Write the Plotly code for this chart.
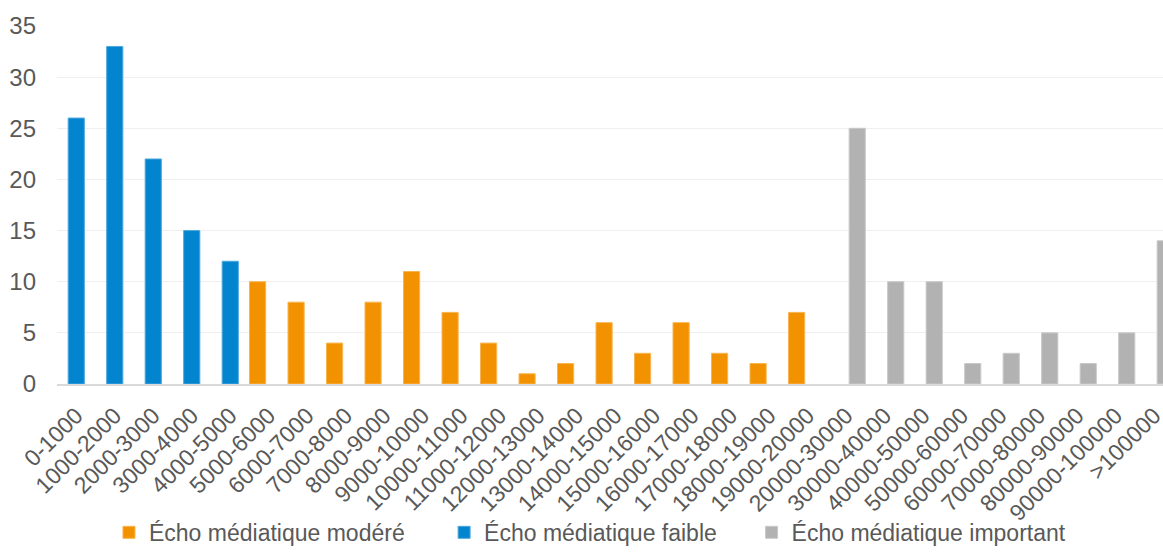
import plotly.graph_objects as go

categories = ["0-1000", "1000-2000", "2000-3000", "3000-4000", "4000-5000",
              "5000-6000", "6000-7000", "7000-8000", "8000-9000", "9000-10000",
              "10000-11000", "11000-12000", "12000-13000", "13000-14000", "14000-15000",
              "15000-16000", "16000-17000", "17000-18000", "18000-19000", "19000-20000",
              "20000-30000", "30000-40000", "40000-50000", "50000-60000", "60000-70000",
              "70000-80000", "80000-90000", "90000-100000", ">100000"]

faible_cats = categories[0:5]
faible_vals = [26, 33, 22, 15, 12]

modere_cats = categories[5:20]
modere_vals = [10, 8, 4, 8, 11, 7, 4, 1, 2, 6, 3, 6, 3, 2, 7]

important_cats = categories[20:29]
important_vals = [25, 10, 10, 2, 3, 5, 2, 5, 14]

names = ["Écho médiatique modéré", "Écho médiatique faible", "Écho médiatique important"]
colors = ["#F39200", "#0284CE", "#B2B2B2"]
edge = ["#F8B54F", "#4FA9DE", "#C9C9C9"]

TXT = "#595959"
FONT = "Liberation Sans, Arial, sans-serif"
BAR_W = 0.42

fig = go.Figure()
fig.add_trace(go.Bar(x=modere_cats, y=modere_vals, name=names[0], legend="legend",
                     marker=dict(color=colors[0], line=dict(color=edge[0], width=1)),
                     width=BAR_W, offset=-0.50))
fig.add_trace(go.Bar(x=faible_cats, y=faible_vals, name=names[1], legend="legend2",
                     marker=dict(color=colors[1], line=dict(color=edge[1], width=1)),
                     width=BAR_W, offset=-0.21))
fig.add_trace(go.Bar(x=important_cats, y=important_vals, name=names[2], legend="legend3",
                     marker=dict(color=colors[2], line=dict(color=edge[2], width=1)),
                     width=BAR_W, offset=0.075))

def leg(x):
    return dict(orientation="h", x=x, xanchor="left", y=-0.4745, yanchor="bottom",
                font=dict(family=FONT, size=23, color=TXT),
                bgcolor="rgba(0,0,0,0)", borderwidth=0, itemwidth=30)

fig.update_layout(
    width=1163, height=555,
    margin=dict(l=57, r=0, t=26, b=170.5),
    paper_bgcolor="white", plot_bgcolor="white",
    barmode="overlay",
    font=dict(family=FONT, color=TXT, size=23),
    showlegend=True,
    legend=leg(0.047),
    legend2=leg(0.350),
    legend3=leg(0.628),
    xaxis=dict(type="category", categoryorder="array", categoryarray=categories,
               range=[-0.5, 28.227], tickangle=-45, showgrid=False, automargin=False,
               showline=True, linecolor="#D9D9D9", linewidth=2,
               ticks="outside", ticklen=7, tickcolor="rgba(0,0,0,0)",
               tickfont=dict(family=FONT, size=23, color=TXT), fixedrange=True),
    yaxis=dict(range=[0, 35], dtick=5, showgrid=True, gridcolor="#EFEFEF", gridwidth=1,
               zeroline=False, showline=False, ticks="", automargin=False,
               ticklabelstandoff=20, tickfont=dict(family=FONT, size=24, color=TXT),
               fixedrange=True),
)

fig.write_html("out.html", config={"displayModeBar": False},
               post_script="document.body.style.margin='0px';document.body.style.overflow='hidden';")
